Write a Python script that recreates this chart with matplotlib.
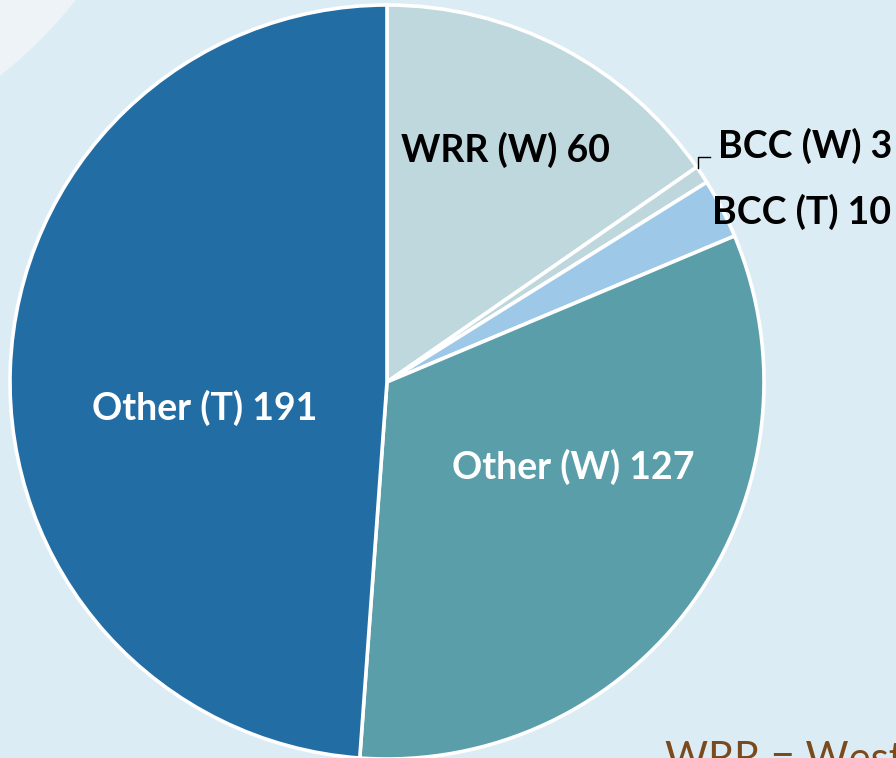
import matplotlib.pyplot as plt
from matplotlib.patches import Circle

plt.rcParams['font.family'] = ['Lato', 'DejaVu Sans']

# slice data, clockwise from 12 o'clock
names = ['WRR (W)', 'BCC (W)', 'BCC (T)', 'Other (W)', 'Other (T)']
counts = [60, 3, 10, 127, 191]
colours = ['#bed8de', '#bdd7dd', '#9dc8e8', '#5a9eaa', '#236da5']
explode = [0, 0.03, 0.03, 0, 0]

# where each label goes (pixel coords, y measured from the top)
label_pos = [(505, 150), (718, 146), (712, 212), (573, 467), (205, 408)]
label_ha = ['center', 'left', 'left', 'center', 'center']
label_col = ['black', 'black', 'black', 'white', 'white']

W, H = 896, 758
fig = plt.figure(figsize=(W / 100, H / 100), dpi=100)
fig.patch.set_facecolor('#dcecf5')
ax = fig.add_axes([0, 0, 1, 1])

# pale paper patch in the top-left corner
ax.add_patch(Circle((-300, H + 300), 481, facecolor='#edf3f6', edgecolor='none', zorder=0))

wedges, _ = ax.pie(counts, colors=colours, explode=explode, startangle=90,
                   counterclock=False, center=(387, H - 382), radius=377,
                   wedgeprops=dict(edgecolor='white', linewidth=2.6),
                   frame=True)
ax.set_xlim(0, W)
ax.set_ylim(0, H)
ax.set_aspect('equal')
ax.axis('off')

for name, n, (x, y), ha, c in zip(names, counts, label_pos, label_ha, label_col):
    ax.text(x, H - y, f'{name} {n}', ha=ha, va='center', color=c,
            fontsize=27, fontweight='bold', zorder=5)

# leader line for the tiny BCC (W) slice
ax.plot([698, 698, 710], [H - 168, H - 157, H - 157], color='black', lw=1.0, zorder=5)

ax.text(665, H - 741, 'WRR = Western Riverside', ha='left', va='top',
        color='#7b4a1c', fontsize=30, zorder=5)

fig.savefig('out.png', dpi=100, facecolor=fig.get_facecolor())
